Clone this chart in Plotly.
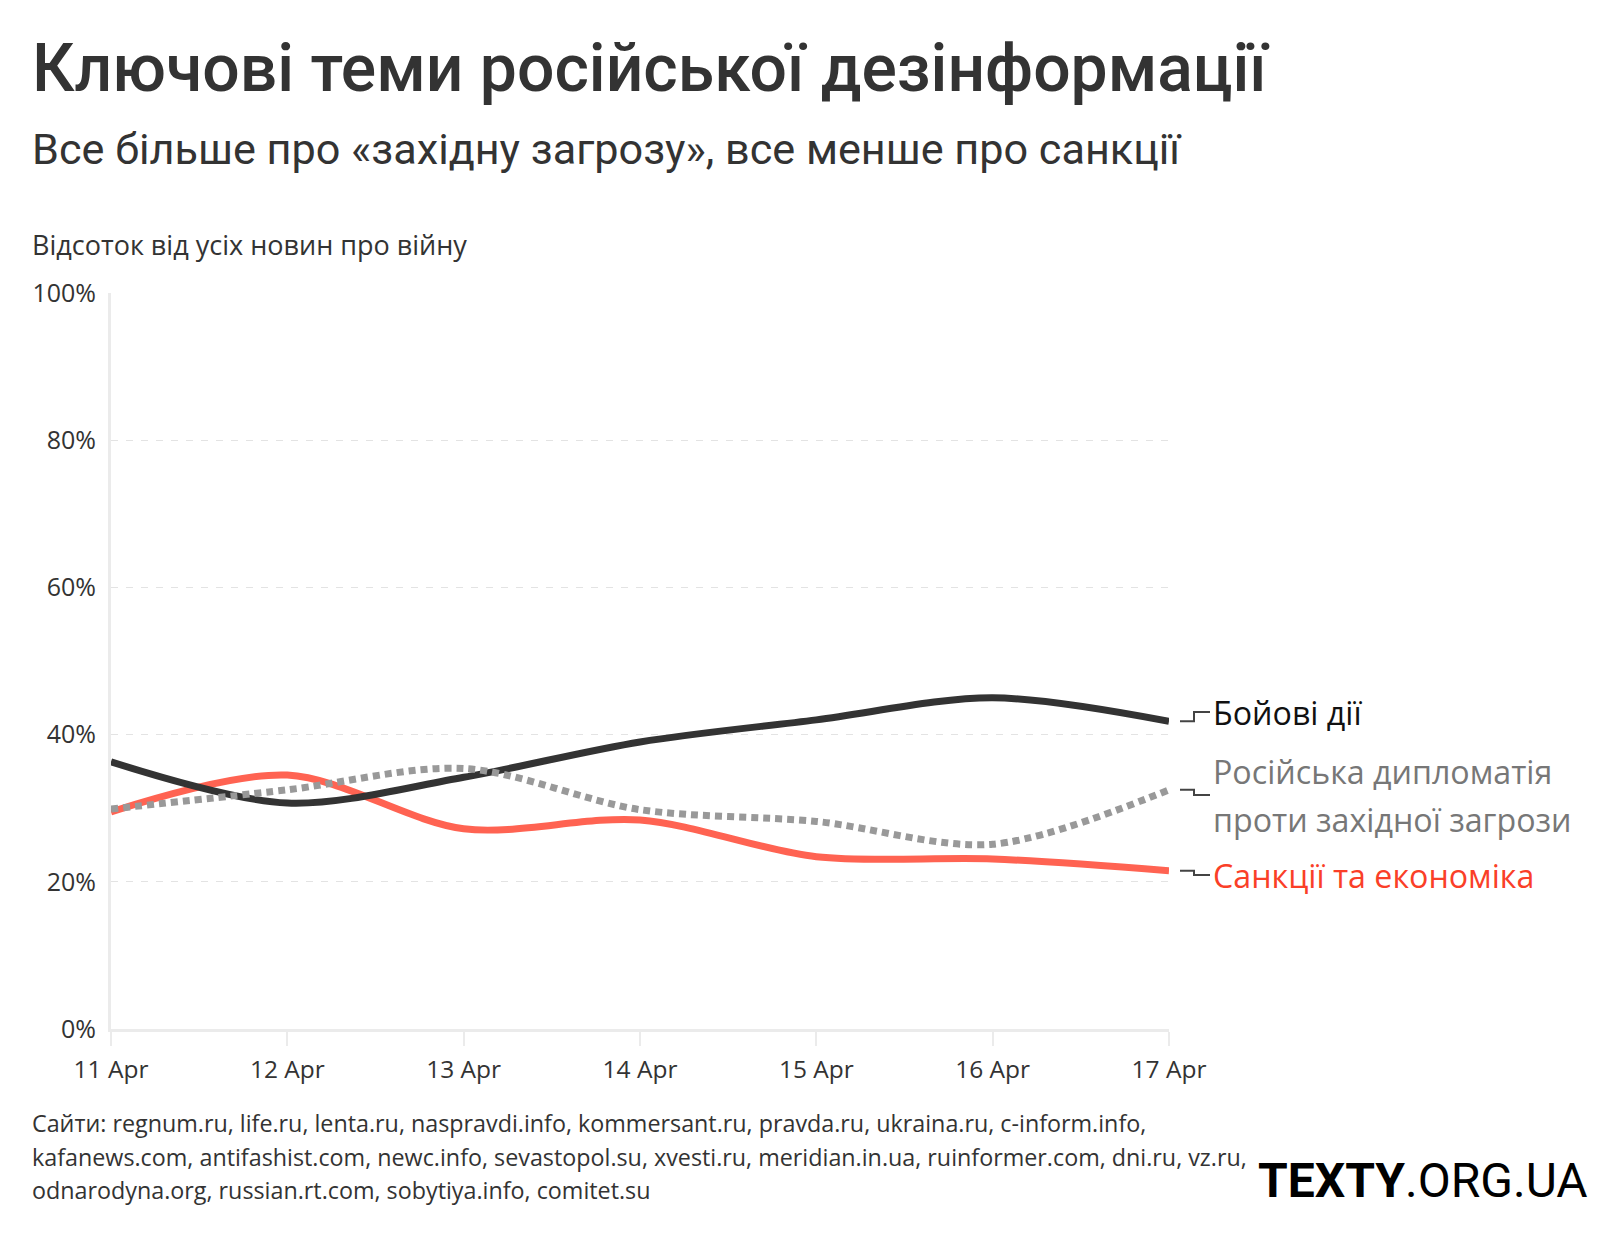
import plotly.graph_objects as go

# ---------------- data ----------------
dates = ["11 Apr", "12 Apr", "13 Apr", "14 Apr", "15 Apr", "16 Apr", "17 Apr"]
combat = [36.3, 30.7, 34.2, 39.0, 42.0, 45.0, 41.8]          # Бойові дії
diplomacy = [29.9, 32.5, 35.4, 29.8, 28.2, 25.1, 32.5]       # Російська дипломатія проти західної загрози
sanctions = [29.5, 34.5, 27.2, 28.4, 23.4, 23.1, 21.5]       # Санкції та економіка
y_tick_vals = [0, 20, 40, 60, 80, 100]
y_tick_text = ["0%", "20%", "40%", "60%", "80%", "100%"]

title = "Ключові теми російської дезінформації"
subtitle = "Все більше про «західну загрозу», все менше про санкції"
y_title = "Відсоток від усіх новин про війну"
label_combat = "Бойові дії"
label_diplomacy = ["Російська дипломатія", "проти західної загрози"]
label_sanctions = "Санкції та економіка"
footer_lines = [
    "Сайти: regnum.ru, life.ru, lenta.ru, naspravdi.info, kommersant.ru, pravda.ru, ukraina.ru, c-inform.info,",
    "kafanews.com, antifashist.com, newc.info, sevastopol.su, xvesti.ru, meridian.in.ua, ruinformer.com, dni.ru, vz.ru,",
    "odnarodyna.org, russian.rt.com, sobytiya.info, comitet.su",
]

# ---------------- geometry (page pixels) ----------------
OFF = 8  # body margin of the html page
W, H = 1620 - 2 * OFF, 1240 - 2 * OFF
X0, X1 = 111 - OFF, 1169 - OFF      # plot area left/right
Y0, Y1 = 1029 - OFF, 293 - OFF      # plot area bottom/top


def px(x):
    return (x - OFF - X0) / (X1 - X0)


def py(y):
    return (Y0 - (y - OFF)) / (Y0 - Y1)


C_BLACK = "#333333"
C_RED = "#ff6352"
C_GRAY = "#999999"
C_TEXT = "#333333"
LBL_FONT = "Open Sans, Noto Sans, sans-serif"
HEAD_FONT = "Roboto, Liberation Sans, sans-serif"

fig = go.Figure()
fig.add_trace(go.Scatter(x=dates, y=sanctions, mode="lines",
                         line=dict(color=C_RED, width=7, shape="spline", smoothing=0.9),
                         hoverinfo="skip", showlegend=False))
fig.add_trace(go.Scatter(x=dates, y=combat, mode="lines",
                         line=dict(color=C_BLACK, width=7, shape="spline", smoothing=0.9),
                         hoverinfo="skip", showlegend=False))
fig.add_trace(go.Scatter(x=dates, y=diplomacy, mode="lines",
                         line=dict(color=C_GRAY, width=7, shape="spline", smoothing=0.9, dash="7px,5px"),
                         hoverinfo="skip", showlegend=False))

annotations = []


def add_text(text, x, y, size, color, family=LBL_FONT, xanchor="left", weight=None):
    f = dict(size=size, color=color, family=family)
    if weight:
        f["weight"] = weight
    annotations.append(dict(text=text, x=px(x), y=py(y), xref="paper", yref="paper",
                            xanchor=xanchor, yanchor="middle", showarrow=False,
                            font=f, align="left"))


add_text(title, 30, 68, 66, C_TEXT, HEAD_FONT, weight=500)
add_text(subtitle, 30, 150, 43.2, C_TEXT, HEAD_FONT)
add_text(y_title, 30, 245, 27, C_TEXT)
add_text(label_combat, 1211, 712, 32.2, "#111111")
add_text(label_diplomacy[0], 1211, 771, 32.2, "#777777")
add_text(label_diplomacy[1], 1211, 819, 32.2, "#777777")
add_text(label_sanctions, 1211, 875, 32.2, "#fa3f28")
for i, line in enumerate(footer_lines):
    add_text(line, 30, 1123 + i * 33.5, 23.3, C_TEXT)
add_text("<b>TEXTY</b>.ORG.UA", 1590, 1180, 48, "#000000", HEAD_FONT, xanchor="right")

# connectors from line ends to labels
shapes = []
ends = [(combat[-1], 712), (diplomacy[-1], 795), (sanctions[-1], 875)]
for val, ly in ends:
    yv = py(ly) * 100  # label y in data units
    xa, xb, xc = px(1180), px(1194), px(1210)
    shapes.append(dict(type="path", xref="paper", yref="y",
                       path=f"M {xa} {val} L {xb} {val} L {xb} {yv} L {xc} {yv}",
                       line=dict(color="#444444", width=2)))

fig.update_layout(
    width=W, height=H,
    margin=dict(l=X0, r=W - X1, t=Y1, b=H - Y0, pad=0),
    paper_bgcolor="white", plot_bgcolor="white",
    annotations=annotations, shapes=shapes,
    xaxis=dict(type="category", range=[0, 6], showgrid=False, zeroline=False,
               showline=True, linecolor="#ebebeb", linewidth=3,
               ticks="outside", ticklen=14, tickwidth=2, tickcolor="#ebebeb",
               tickfont=dict(family=LBL_FONT, size=24.5, color=C_TEXT),
               ticklabelstandoff=3, fixedrange=True),
    yaxis=dict(range=[0, 100], tickvals=y_tick_vals, ticktext=y_tick_text,
               showgrid=True, gridcolor="#e3e3e3", gridwidth=1, griddash="7px,8px",
               zeroline=False, showline=True, linecolor="#ebebeb", linewidth=3,
               ticks="", tickfont=dict(family=LBL_FONT, size=25, color=C_TEXT),
               ticklabelstandoff=7, fixedrange=True),
)

fig.write_html("out.html")
